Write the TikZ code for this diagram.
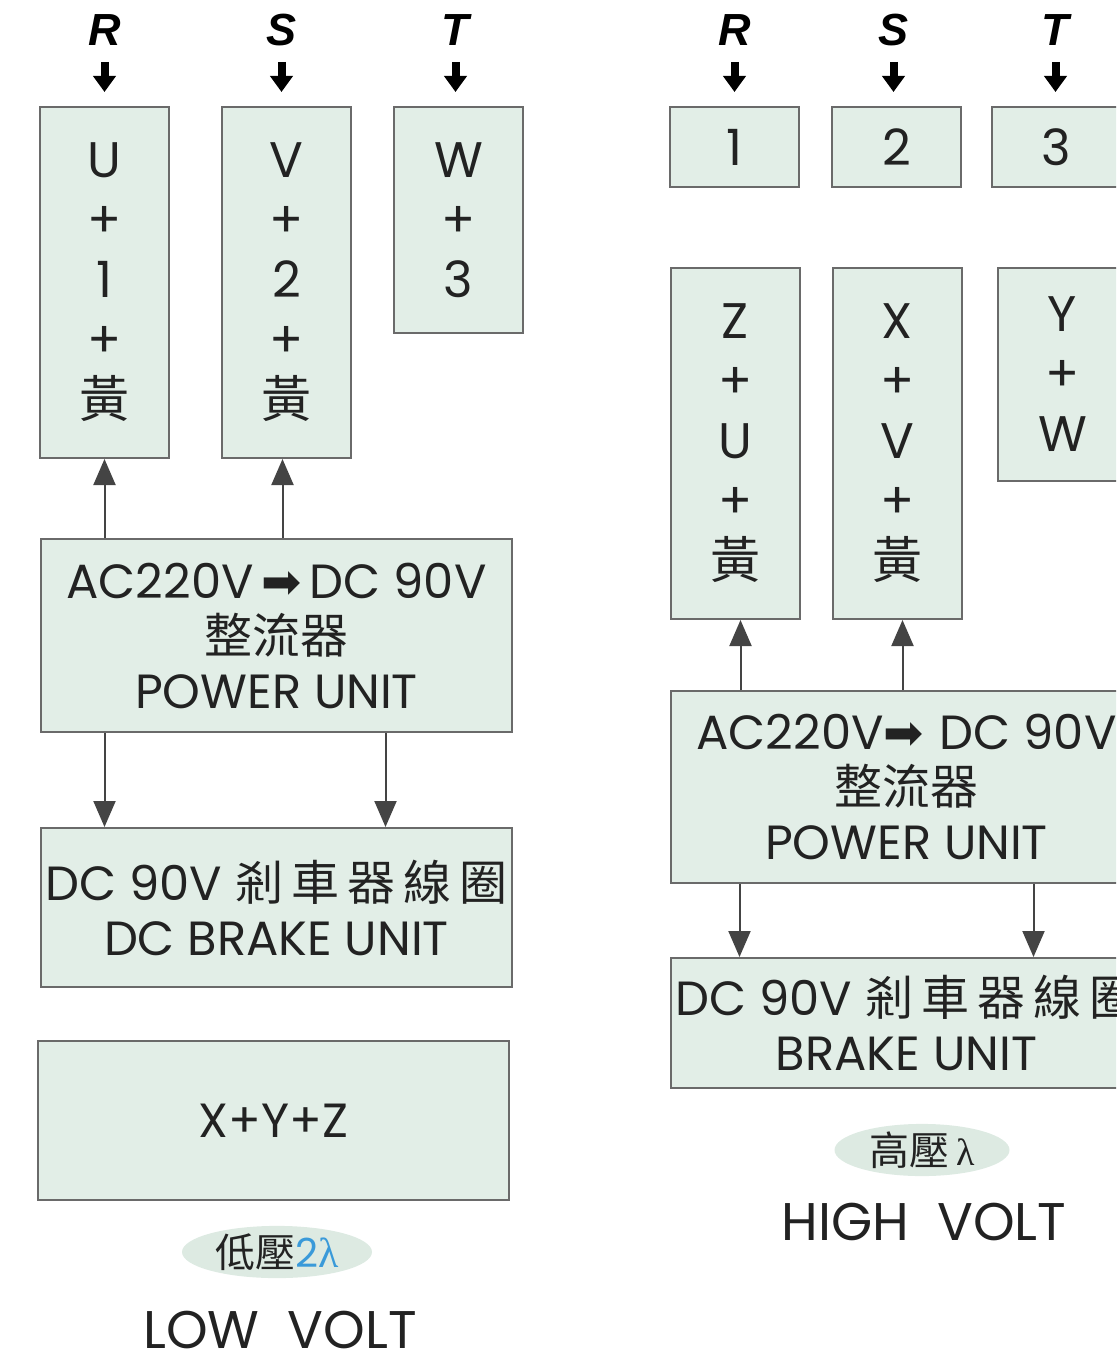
\documentclass[tikz,border=0pt]{standalone}
\usepackage{fontspec}
\setmainfont{Poppins}
\newfontfamily\cjk{Noto Sans CJK TC}
\newfontfamily\phasefont{Liberation Sans}
\newfontfamily\symfont{DejaVu Sans}
\newfontfamily\greekfont{Liberation Serif}
\usetikzlibrary{arrows.meta, positioning, shapes.geometric}

\definecolor{boxfill}{HTML}{E2EEE7}
\definecolor{boxline}{HTML}{6A6A6A}
\definecolor{inkgray}{HTML}{222222}
\definecolor{lambdablue}{HTML}{3A9AD9}
\definecolor{ovalfill}{HTML}{DDEAE2}
\definecolor{wiregray}{HTML}{444444}

\begin{document}
\begin{tikzpicture}[
    x=1pt, y=-1pt,
    every node/.style={font=\fontsize{50}{60}\selectfont, align=center, text=inkgray, inner sep=0pt},
    tallbox/.style={rectangle, draw=boxline, line width=2pt, fill=boxfill, minimum width=129pt},
    widebox/.style={rectangle, draw=boxline, line width=2pt, fill=boxfill, minimum width=471pt, font=\fontsize{48}{55}\selectfont},
    phaselbl/.style={font=\fontsize{45}{45}\phasefont\bfseries\itshape\selectfont, text=black},
    oval/.style={ellipse, fill=ovalfill, minimum width=190pt, minimum height=46pt, font=\fontsize{40}{40}\selectfont},
    volt/.style={font=\fontsize{53}{53}\selectfont},
    feed/.style={line width=8pt, black, -{Triangle[width=22pt,length=16pt]}, shorten <=16pt, shorten >=14pt},
    arrow/.style={line width=2pt, wiregray, -{Triangle[width=22pt,length=26pt]}}
]
    \path[use as bounding box, clip] (0,0) rectangle (1116,1362);

    % Low volt: windings
    \node[tallbox, minimum height=351pt, anchor=north west] (lU) at (39,106) {U\\+\\1\\+\\{\cjk 黃}};
    \node[tallbox, minimum height=351pt, right=51pt of lU] (lV) {V\\+\\2\\+\\{\cjk 黃}};
    \node[tallbox, minimum height=226pt, right=41pt of lV.north east, anchor=north west] (lW) {W\\+\\3};

    % Low volt: phases
    \node[phaselbl, above=60pt of lU] (lR) {R};
    \node[phaselbl, above=60pt of lV, xshift=-5pt] (lS) {S};
    \node[phaselbl, above=60pt of lW, xshift=-3pt] (lT) {T};
    \draw[feed] (lR) -- (lR |- lU.north);
    \draw[feed] (lS) -- (lS |- lV.north);
    \draw[feed] (lT) -- (lT |- lW.north);

    % Low volt: units
    \node[widebox, minimum height=193pt, anchor=north west] (lPower) at (40,538) {AC220V\,{\symfont ➡}\,DC 90V\\{\cjk 整流器}\\POWER UNIT};
    \node[widebox, minimum height=159pt, below=94pt of lPower] (lBrake) {DC 90V {\cjk 剎\,車\,器\,線\,圈}\\DC BRAKE UNIT};
    \node[widebox, minimum height=159pt, anchor=north west] (lCoil) at (37,1040) {X+Y+Z};
    \node[oval] (lLow) at (277,1252) {{\cjk 低壓}{\color{lambdablue}2{\greekfont\fontsize{42}{42}\selectfont λ}}};
    \node[volt] (lLowText) at (280,1330) {LOW~~VOLT};

    \draw[arrow] (lU |- lPower.north) -- (lU.south);
    \draw[arrow] ([xshift=-4pt]lV |- lPower.north) -- ([xshift=-4pt]lV.south);
    \draw[arrow] (lU |- lPower.south) -- (lU |- lBrake.north);
    \draw[arrow] ([xshift=109pt]lPower.south) -- ([xshift=109pt]lBrake.north);

    % High volt: terminals
    \node[tallbox, minimum height=80pt, anchor=north west] (r1) at (669,106) {1};
    \node[tallbox, minimum height=80pt, right=31pt of r1] (r2) {2};
    \node[tallbox, minimum height=80pt, right=29pt of r2] (r3) {3};

    \node[phaselbl, above=60pt of r1] (rR) {R};
    \node[phaselbl, above=60pt of r2, xshift=-3pt] (rS) {S};
    \node[phaselbl, above=60pt of r3, xshift=-1pt] (rT) {T};
    \draw[feed] (rR) -- (rR |- r1.north);
    \draw[feed] (rS) -- (rS |- r2.north);
    \draw[feed] (rT) -- (rT |- r3.north);

    % High volt: windings
    \node[tallbox, minimum height=351pt, anchor=north west] (rZ) at (670,267) {Z\\+\\U\\+\\{\cjk 黃}};
    \node[tallbox, minimum height=351pt, right=31pt of rZ] (rX) {X\\+\\V\\+\\{\cjk 黃}};
    \node[tallbox, minimum height=213pt, right=34pt of rX.north east, anchor=north west] (rY) {Y\\+\\W};

    % High volt: units
    \node[widebox, minimum height=192pt, anchor=north west] (rPower) at (670,690) {AC220V{\symfont ➡}\,\,DC 90V\\{\cjk 整流器}\\POWER UNIT};
    \node[widebox, minimum height=130pt, below=73pt of rPower] (rBrake) {DC 90V {\cjk 剎\,車\,器\,線\,圈}\\BRAKE UNIT};
    \node[oval, minimum width=175pt] (rHigh) at (922,1150) {{\cjk 高壓}\,{\greekfont\fontsize{38}{38}\selectfont λ}};
    \node[volt] (rHighText) at (924,1222) {HIGH~~VOLT};

    \draw[arrow] ([xshift=5pt]rZ |- rPower.north) -- ([xshift=5pt]rZ.south);
    \draw[arrow] ([xshift=5pt]rX |- rPower.north) -- ([xshift=5pt]rX.south);
    \draw[arrow] ([xshift=-167pt]rPower.south) -- ([xshift=-167pt]rBrake.north);
    \draw[arrow] ([xshift=127pt]rPower.south) -- ([xshift=127pt]rBrake.north);
\end{tikzpicture}
\end{document}
